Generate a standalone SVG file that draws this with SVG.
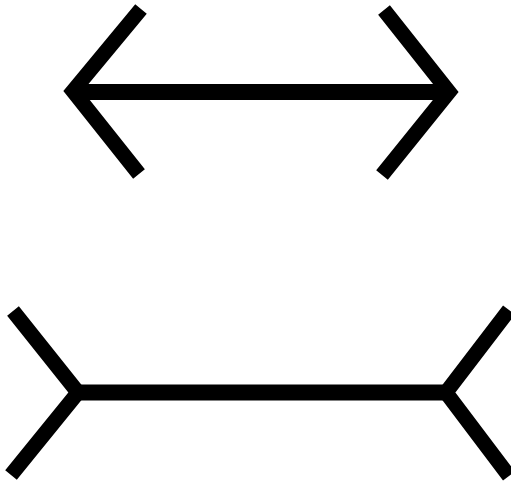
<svg xmlns="http://www.w3.org/2000/svg" width="511" height="485" viewBox="0 0 511 485">
<style>
.ln{fill:none;stroke:#000;stroke-linecap:butt;stroke-linejoin:miter;stroke-miterlimit:10}
.fin{stroke-width:15}
.shaft{stroke-width:16}
</style>
<rect width="511" height="485" fill="#fff"/>
<g id="top-arrow">
<line class="ln shaft" x1="72" y1="92" x2="450" y2="92"/>
<polyline class="ln fin" points="141,9 73,91 139,174"/>
<polyline class="ln fin" points="384,10 449,92 382,175"/>
</g>
<g id="bottom-line">
<line class="ln shaft" x1="78" y1="392.5" x2="446" y2="392.5"/>
<polyline class="ln fin" points="13,311 78,392.5 11,475"/>
<polyline class="ln fin" points="509,310 446,392.5 509,476"/>
</g>
</svg>
